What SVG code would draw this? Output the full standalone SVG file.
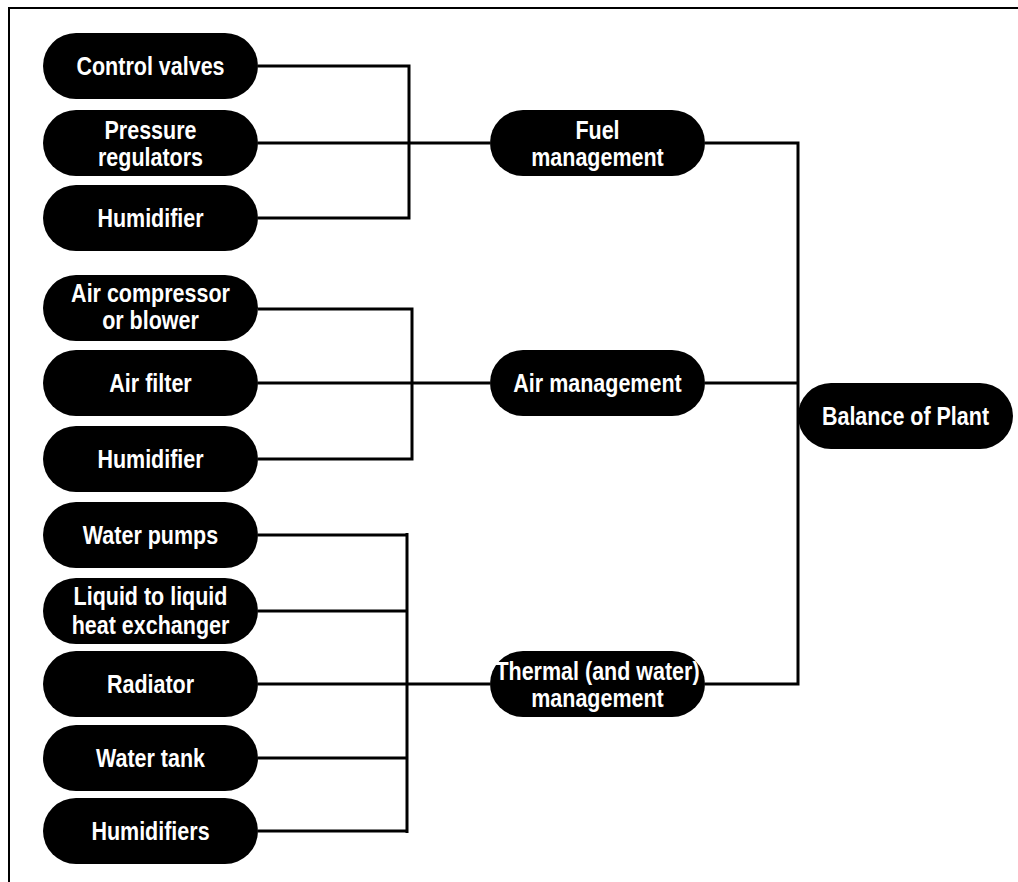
<svg xmlns="http://www.w3.org/2000/svg" width="1018" height="882" viewBox="0 0 1018 882">
<style>
.n rect{fill:#000}
.n text{fill:#fff;font-family:"Liberation Sans",Arial,sans-serif;font-weight:bold;font-size:25px;text-anchor:middle}
.c{fill:none;stroke:#000;stroke-width:3}
.f{fill:none;stroke:#000;stroke-width:2}
</style>
<rect width="1018" height="882" fill="#fff"/>
<path class="f" d="M9,882 V8 H1018"/>
<g id="connectors">
<path class="c" d="M258,66 H409 V218 H258 M258,143 H490"/>
<path class="c" d="M258,309 H412 V459 H258 M258,383 H490"/>
<path class="c" d="M258,535 H407 M258,611 H407 M258,758 H407 M258,831 H407 M407,533 V833 M258,684 H490"/>
<path class="c" d="M705,143 H798 V684 H705 M705,383 H798"/>
</g>
<g id="control-valves" class="n"><rect x="43" y="33" width="215" height="66" rx="33"/><text transform="translate(150.5,75) scale(0.86,1)">Control valves</text></g>
<g id="pressure-regulators" class="n"><rect x="43" y="110" width="215" height="66" rx="33"/><text transform="translate(150.5,139) scale(0.86,1)">Pressure</text><text transform="translate(150.5,166) scale(0.86,1)">regulators</text></g>
<g id="humidifier-fuel" class="n"><rect x="43" y="185" width="215" height="66" rx="33"/><text transform="translate(150.5,227) scale(0.86,1)">Humidifier</text></g>
<g id="air-compressor" class="n"><rect x="43" y="275" width="215" height="66" rx="33"/><text transform="translate(150.5,302) scale(0.86,1)">Air compressor</text><text transform="translate(150.5,329) scale(0.86,1)">or blower</text></g>
<g id="air-filter" class="n"><rect x="43" y="350" width="215" height="66" rx="33"/><text transform="translate(150.5,392) scale(0.86,1)">Air filter</text></g>
<g id="humidifier-air" class="n"><rect x="43" y="426" width="215" height="66" rx="33"/><text transform="translate(150.5,468) scale(0.86,1)">Humidifier</text></g>
<g id="water-pumps" class="n"><rect x="43" y="502" width="215" height="66" rx="33"/><text transform="translate(150.5,544) scale(0.86,1)">Water pumps</text></g>
<g id="heat-exchanger" class="n"><rect x="43" y="578" width="215" height="66" rx="33"/><text transform="translate(150.5,605) scale(0.86,1)">Liquid to liquid</text><text transform="translate(150.5,634) scale(0.86,1)">heat exchanger</text></g>
<g id="radiator" class="n"><rect x="43" y="651" width="215" height="66" rx="33"/><text transform="translate(150.5,693) scale(0.86,1)">Radiator</text></g>
<g id="water-tank" class="n"><rect x="43" y="725" width="215" height="66" rx="33"/><text transform="translate(150.5,767) scale(0.86,1)">Water tank</text></g>
<g id="humidifiers" class="n"><rect x="43" y="798" width="215" height="66" rx="33"/><text transform="translate(150.5,840) scale(0.86,1)">Humidifiers</text></g>
<g id="fuel-management" class="n"><rect x="490" y="110" width="215" height="66" rx="33"/><text transform="translate(597.5,139) scale(0.86,1)">Fuel</text><text transform="translate(597.5,166) scale(0.86,1)">management</text></g>
<g id="air-management" class="n"><rect x="490" y="350" width="215" height="66" rx="33"/><text transform="translate(597.5,392) scale(0.86,1)">Air management</text></g>
<g id="thermal-management" class="n"><rect x="490" y="651" width="215" height="66" rx="33"/><text transform="translate(597.5,680) scale(0.86,1)">Thermal (and water)</text><text transform="translate(597.5,707) scale(0.86,1)">management</text></g>
<g id="balance-of-plant" class="n"><rect x="798" y="383" width="215" height="66" rx="33"/><text transform="translate(905.5,425) scale(0.86,1)">Balance of Plant</text></g>
</svg>
